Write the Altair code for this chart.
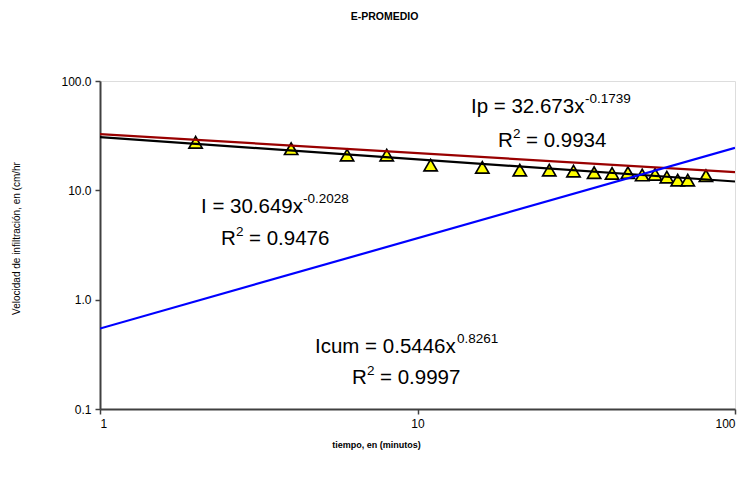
import altair as alt
import pandas as pd

# ---- data ----
tiempo = [2, 4, 6, 8, 11, 16, 21, 26, 31, 36, 41, 46, 51, 56, 61, 66, 71, 81]
velocidad = [27.5, 24.0, 21.0, 21.0, 17.0, 16.2, 15.3, 15.3, 15.0, 14.5, 14.3, 14.5,
             13.8, 14.0, 13.2, 12.4, 12.4, 13.6]

trend_x = [1, 100]
trend_I = [30.649, 12.04]
trend_Ip = [32.673, 14.67]
trend_Icum = [0.5446, 24.45]

x_ticks = [1, 10, 100]
y_ticks = [0.1, 1, 10, 100]

FONT = "Liberation Sans"

pts = pd.DataFrame({"t": tiempo, "v": velocidad})
trend = pd.DataFrame({
    "t": trend_x * 3,
    "v": trend_I + trend_Ip + trend_Icum,
    "s": ["I"] * 2 + ["Ip"] * 2 + ["Icum"] * 2,
    "o": [0, 0, 1, 1, 2, 2],
})

xscale = alt.Scale(type="log", domain=[1, 100], nice=False)
yscale = alt.Scale(type="log", domain=[0.1, 100], nice=False)

x_enc = alt.X("t:Q", scale=xscale, axis=alt.Axis(
    values=x_ticks, format="d", title="tiempo, en (minutos)", grid=False,
    domainColor="#404040", domainWidth=2, tickColor="#404040", tickWidth=1.5,
    tickSize=5, labelFontSize=12, labelFont=FONT, labelColor="black", labelPadding=4,
    titleFont=FONT, titleFontSize=9, titleFontWeight="bold", titleColor="black",
    titleX=276, titleY=35, titleBaseline="middle"))
y_enc = alt.Y("v:Q", scale=yscale, axis=alt.Axis(
    values=y_ticks, format=".1f", title="Velocidad de infiltración, en (cm/hr",
    grid=False, domainColor="#404040", domainWidth=2, tickColor="#404040", tickWidth=1.5,
    tickSize=5, labelFontSize=12, labelFont=FONT, labelColor="black", labelPadding=4,
    titleFont=FONT, titleFontSize=10, titleFontWeight="normal", titleColor="black",
    titleX=-84, titleY=157, titleBaseline="middle"))

points = alt.Chart(pts).mark_point(
    shape="triangle-up", filled=True, fill="#FFFF00", stroke="black",
    strokeWidth=1.7, size=175, opacity=1
).encode(x=x_enc, y=y_enc)

lines = alt.Chart(trend).mark_line(strokeWidth=2.2, clip=True).encode(
    x=alt.X("t:Q", scale=xscale),
    y=alt.Y("v:Q", scale=yscale),
    detail="s:N",
    order="o:Q",
    color=alt.Color("s:N", scale=alt.Scale(domain=["I", "Ip", "Icum"],
                                           range=["#000000", "#990000", "#0000FF"]),
                    legend=None),
)

one = pd.DataFrame({"a": [0]})


def txt(s, x, y, size):
    return alt.Chart(one).mark_text(
        text=s, align="left", baseline="alphabetic", fontSize=size, font=FONT,
        color="black").encode(x=alt.value(x), y=alt.value(y))


BIG = 20.5
SUP = 13.5

ann = [
    # Ip
    txt("Ip = 32.673x", 371, 32, BIG), txt("-0.1739", 485, 22, SUP),
    txt("R", 398, 66, BIG), txt("2", 413, 57, SUP), txt("= 0.9934", 426, 66, BIG),
    # I
    txt("I = 30.649x", 101, 132, BIG), txt("-0.2028", 203, 122, SUP),
    txt("R", 121, 164, BIG), txt("2", 136, 155, SUP), txt("= 0.9476", 149, 164, BIG),
    # Icum
    txt("Icum = 0.5446x", 215, 272, BIG), txt("0.8261", 357, 262, SUP),
    txt("R", 252, 303, BIG), txt("2", 267, 294, SUP), txt("= 0.9997", 280, 303, BIG),
]

chart = alt.layer(points, lines, *ann).properties(
    width=635, height=328, autosize="none",
    padding={"left": 92, "top": 73, "right": 5, "bottom": 65},
    title=alt.TitleParams("E-PROMEDIO", fontSize=10.5, fontWeight="bold", font=FONT,
                          color="black", anchor="middle", dx=-33, offset=53),
).configure_view(stroke="#9a9a9a", strokeWidth=2).configure(background="white")

chart.save("out.html", embed_options={"renderer": "svg", "actions": False})
